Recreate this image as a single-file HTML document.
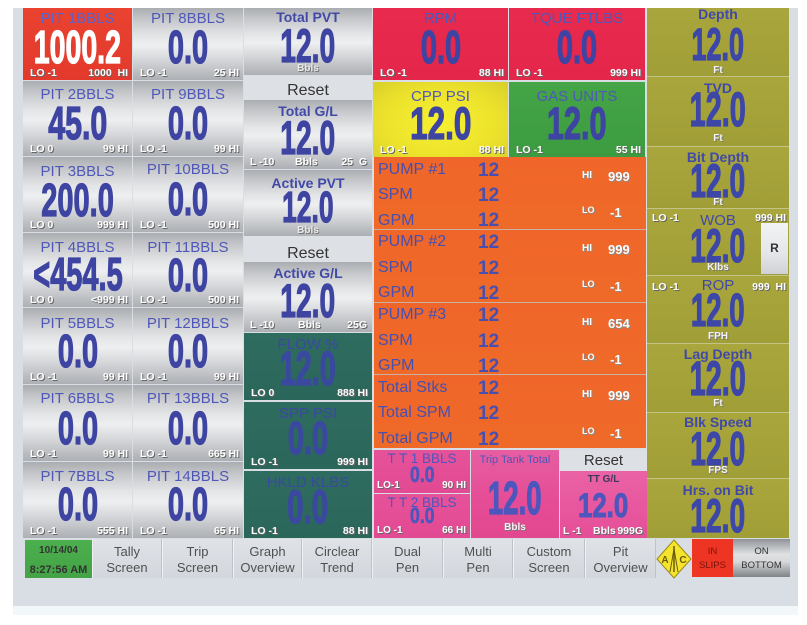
<!DOCTYPE html>
<html><head><meta charset="utf-8">
<style>
*{margin:0;padding:0;box-sizing:border-box}
html,body{width:807px;height:625px;background:#fff;overflow:hidden;font-family:"Liberation Sans",Arial,sans-serif}
#panel{position:absolute;left:13px;top:8px;width:785px;height:598px;background:#d9dee4}
#strip{position:absolute;left:13px;top:606px;width:785px;height:9px;background:#f2f8fa}
.tile{position:absolute;overflow:hidden}
.t{position:absolute;left:0;right:0;text-align:center;font-size:15px;line-height:1;color:#4f58b8;white-space:nowrap}
.tb{font-weight:bold;font-size:14px;color:#4149a6}
.v{position:absolute;left:-100px;right:-100px;text-align:center;font-weight:bold;line-height:1;color:#3e44a2;white-space:nowrap;-webkit-text-stroke:1.3px currentColor}
.v span{display:inline-block;transform:scaleX(.63)}
.lo,.hi{position:absolute;bottom:2px;font-size:10.5px;font-weight:bold;line-height:1;color:#fff;text-shadow:1px 1px 0 #666;white-space:nowrap}
.lo{left:7px}.hi{right:4px}
.u{position:absolute;left:0;right:0;text-align:center;font-size:10px;font-weight:bold;line-height:1;color:#f4f4f4;text-shadow:1px 1px 0 #777}
.ab{position:absolute;font-size:10.5px;font-weight:bold;line-height:1;color:#fff;text-shadow:1px 1px 0 #666;white-space:nowrap}
.sv{background:linear-gradient(180deg,#aaadb1 0%,#c4c6c9 15%,#e3e4e6 38%,#eeeff0 52%,#d4d6d9 72%,#acafb3 100%)}
.red{background:linear-gradient(180deg,#ea4331,#e2392c)}
.crim{background:linear-gradient(180deg,#e82a4e,#e3264a)}
.yel{background:radial-gradient(ellipse at 50% 55%,#f6f030 0%,#ece22c 60%,#d8cf2a 100%)}
.grn{background:linear-gradient(180deg,#44a547,#3c9b40)}
.teal{background:linear-gradient(180deg,#2f6c60,#2b665a)}
.teal .t,.teal .v{color:#3a48a0}
.olv{background:linear-gradient(180deg,#a8a63c,#a09e36)}
.olv .t{color:#4149a8}.olv .v{color:#3d47a8}
.pink{background:linear-gradient(180deg,#e6529a,#e24a93)}
.pink .t,.pink .v{color:#4d56bc}
.rst{background:#dde0e4;color:#333;font-size:16px;text-align:center;line-height:1}
.pump{background:#c9b0a0}
.sec{position:absolute;left:0;width:272px;background:linear-gradient(180deg,#f0662a,#ef6a28)}
.pl{position:absolute;left:4px;font-size:16px;line-height:1;color:#4650b0;white-space:nowrap}
.pv{position:absolute;left:104px;font-size:19px;font-weight:bold;line-height:1;color:#4650b0}
.ph{position:absolute;font-weight:bold;line-height:1;color:#fff;text-shadow:1px 1px 0 #8a8a8a;white-space:nowrap}
.nav{position:absolute;top:539px;height:39px;background:linear-gradient(180deg,#dfe2e7,#d3d7dd);border-left:1px solid #eef0f3;border-right:1px solid #bfc3c9;text-align:center;font-size:13px;line-height:16px;color:#505050}
.nav div{position:absolute;left:0;right:0;top:5px}
</style></head><body>
<div id="panel"></div>
<div id="strip"></div>

<!-- Column A -->
<div class="tile red" style="left:23px;top:8px;width:109px;height:72px">
 <div class="t" style="top:3px;color:#5a62cc">PIT 1BBLS</div>
 <div class="v" style="top:16px;font-size:46px;color:#fff"><span style="transform:scaleX(.62)">1000.2</span></div>
 <div class="lo">LO -1</div><div class="hi">1000&nbsp; HI</div></div>
<div class="tile sv" style="left:23px;top:81px;width:109px;height:75px">
 <div class="t" style="top:6px">PIT 2BBLS</div>
 <div class="v" style="top:19px;font-size:46px"><span style="transform:scaleX(.66)">45.0</span></div>
 <div class="lo">LO 0</div><div class="hi">99 HI</div></div>
<div class="tile sv" style="left:23px;top:157px;width:109px;height:75px">
 <div class="t" style="top:7px">PIT 3BBLS</div>
 <div class="v" style="top:20px;font-size:46px"><span>200.0</span></div>
 <div class="lo">LO 0</div><div class="hi">999 HI</div></div>
<div class="tile sv" style="left:23px;top:233px;width:109px;height:74px">
 <div class="t" style="top:7px">PIT 4BBLS</div>
 <div class="v" style="top:18px;font-size:46px"><span>&lt;454.5</span></div>
 <div class="lo">LO 0</div><div class="hi">&lt;999 HI</div></div>
<div class="tile sv" style="left:23px;top:308px;width:109px;height:76px">
 <div class="t" style="top:8px">PIT 5BBLS</div>
 <div class="v" style="top:20px;font-size:46px"><span>0.0</span></div>
 <div class="lo">LO -1</div><div class="hi">99 HI</div></div>
<div class="tile sv" style="left:23px;top:385px;width:109px;height:76px">
 <div class="t" style="top:6px">PIT 6BBLS</div>
 <div class="v" style="top:20px;font-size:46px"><span>0.0</span></div>
 <div class="lo">LO -1</div><div class="hi">99 HI</div></div>
<div class="tile sv" style="left:23px;top:462px;width:109px;height:76px">
 <div class="t" style="top:7px">PIT 7BBLS</div>
 <div class="v" style="top:19px;font-size:46px"><span>0.0</span></div>
 <div class="lo">LO -1</div><div class="hi">555 HI</div></div>

<!-- Column B -->
<div class="tile sv" style="left:133px;top:8px;width:110px;height:72px">
 <div class="t" style="top:3px">PIT 8BBLS</div>
 <div class="v" style="top:16px;font-size:46px"><span>0.0</span></div>
 <div class="lo">LO -1</div><div class="hi">25 HI</div></div>
<div class="tile sv" style="left:133px;top:81px;width:110px;height:75px">
 <div class="t" style="top:6px">PIT 9BBLS</div>
 <div class="v" style="top:19px;font-size:46px"><span>0.0</span></div>
 <div class="lo">LO -1</div><div class="hi">99 HI</div></div>
<div class="tile sv" style="left:133px;top:157px;width:110px;height:75px">
 <div class="t" style="top:5px">PIT 10BBLS</div>
 <div class="v" style="top:19px;font-size:46px"><span>0.0</span></div>
 <div class="lo">LO -1</div><div class="hi">500 HI</div></div>
<div class="tile sv" style="left:133px;top:233px;width:110px;height:74px">
 <div class="t" style="top:7px">PIT 11BBLS</div>
 <div class="v" style="top:19px;font-size:46px"><span>0.0</span></div>
 <div class="lo">LO -1</div><div class="hi">500 HI</div></div>
<div class="tile sv" style="left:133px;top:308px;width:110px;height:76px">
 <div class="t" style="top:8px">PIT 12BBLS</div>
 <div class="v" style="top:20px;font-size:46px"><span>0.0</span></div>
 <div class="lo">LO -1</div><div class="hi">99 HI</div></div>
<div class="tile sv" style="left:133px;top:385px;width:110px;height:76px">
 <div class="t" style="top:6px">PIT 13BBLS</div>
 <div class="v" style="top:20px;font-size:46px"><span>0.0</span></div>
 <div class="lo">LO -1</div><div class="hi">665 HI</div></div>
<div class="tile sv" style="left:133px;top:462px;width:110px;height:76px">
 <div class="t" style="top:7px">PIT 14BBLS</div>
 <div class="v" style="top:19px;font-size:46px"><span>0.0</span></div>
 <div class="lo">LO -1</div><div class="hi">65 HI</div></div>

<!-- Column C -->
<div class="tile sv" style="left:244px;top:8px;width:128px;height:67px">
 <div class="t tb" style="top:2px">Total PVT</div>
 <div class="v" style="top:14px;font-size:47px"><span style="transform:scaleX(.6)">12.0</span></div>
 <div class="u" style="top:56px;color:#e8e8e8">Bbls</div></div>
<div class="tile rst" style="left:244px;top:75px;width:128px;height:25px;padding-top:8px">Reset</div>
<div class="tile sv" style="left:244px;top:100px;width:128px;height:69px">
 <div class="t tb" style="top:4px">Total G/L</div>
 <div class="v" style="top:14px;font-size:47px"><span style="transform:scaleX(.6)">12.0</span></div>
 <div class="ab" style="left:6px;bottom:2px">L -10</div>
 <div class="ab" style="left:51px;bottom:2px">Bbls</div>
 <div class="ab" style="right:5px;bottom:2px">25&nbsp; G</div></div>
<div class="tile sv" style="left:244px;top:170px;width:128px;height:66px">
 <div class="t tb" style="top:6px">Active PVT</div>
 <div class="v" style="top:16px;font-size:44px"><span style="transform:scaleX(.6)">12.0</span></div>
 <div class="u" style="top:56px;color:#e8e8e8">Bbls</div></div>
<div class="tile rst" style="left:244px;top:236px;width:128px;height:26px;padding-top:10px">Reset</div>
<div class="tile sv" style="left:244px;top:262px;width:128px;height:70px">
 <div class="t tb" style="top:4px">Active G/L</div>
 <div class="v" style="top:15px;font-size:47px"><span style="transform:scaleX(.6)">12.0</span></div>
 <div class="ab" style="left:6px;bottom:2px">L -10</div>
 <div class="ab" style="left:54px;bottom:2px">Bbls</div>
 <div class="ab" style="right:5px;bottom:2px">25G</div></div>
<div class="tile teal" style="left:244px;top:333px;width:128px;height:67px">
 <div class="t" style="top:4px">FLOW %</div>
 <div class="v" style="top:13px;font-size:48px"><span style="transform:scaleX(.6)">12.0</span></div>
 <div class="lo">LO 0</div><div class="hi">888 HI</div></div>
<div class="tile teal" style="left:244px;top:402px;width:128px;height:67px">
 <div class="t" style="top:4px">SPP PSI</div>
 <div class="v" style="top:13px;font-size:46px"><span>0.0</span></div>
 <div class="lo">LO -1</div><div class="hi">999 HI</div></div>
<div class="tile teal" style="left:244px;top:471px;width:128px;height:67px">
 <div class="t" style="top:4px">HKLD KLBS</div>
 <div class="v" style="top:12px;font-size:47px"><span>0.0</span></div>
 <div class="lo">LO -1</div><div class="hi">88 HI</div></div>

<!-- Middle top -->
<div class="tile crim" style="left:373px;top:8px;width:135px;height:72px">
 <div class="t" style="top:3px">RPM</div>
 <div class="v" style="top:16px;font-size:46px"><span>0.0</span></div>
 <div class="lo">LO -1</div><div class="hi">88 HI</div></div>
<div class="tile crim" style="left:509px;top:8px;width:136px;height:72px">
 <div class="t" style="top:3px">TQUE FTLBS</div>
 <div class="v" style="top:16px;font-size:46px"><span>0.0</span></div>
 <div class="lo">LO -1</div><div class="hi">999 HI</div></div>
<div class="tile yel" style="left:373px;top:82px;width:135px;height:75px">
 <div class="t" style="top:7px">CPP PSI</div>
 <div class="v" style="top:19px;font-size:45px"><span style="transform:scaleX(.7)">12.0</span></div>
 <div class="lo">LO -1</div><div class="hi">88 HI</div></div>
<div class="tile grn" style="left:509px;top:82px;width:136px;height:75px">
 <div class="t" style="top:7px">GAS UNITS</div>
 <div class="v" style="top:19px;font-size:45px"><span style="transform:scaleX(.68)">12.0</span></div>
 <div class="lo">LO -1</div><div class="hi">55 HI</div></div>

<!-- Pump block -->
<div class="tile pump" style="left:374px;top:157px;width:272px;height:291px">
 <div class="sec" style="top:0;height:72px">
  <div class="pl" style="top:5px">PUMP #1</div><div class="pv" style="top:4px">12</div>
  <div class="pl" style="top:30px">SPM</div><div class="pv" style="top:29px">12</div>
  <div class="pl" style="top:56px">GPM</div><div class="pv" style="top:54px">12</div>
  <div class="ph" style="left:208px;top:14px;font-size:10px">HI</div><div class="ph" style="left:234px;top:13px;font-size:13px">999</div>
  <div class="ph" style="left:208px;top:49px;font-size:9px">LO</div><div class="ph" style="left:236px;top:49px;font-size:13px">-1</div>
 </div>
 <div class="sec" style="top:73px;height:72px">
  <div class="pl" style="top:4px">PUMP #2</div><div class="pv" style="top:3px">12</div>
  <div class="pl" style="top:30px">SPM</div><div class="pv" style="top:29px">12</div>
  <div class="pl" style="top:55px">GPM</div><div class="pv" style="top:54px">12</div>
  <div class="ph" style="left:208px;top:14px;font-size:10px">HI</div><div class="ph" style="left:234px;top:13px;font-size:13px">999</div>
  <div class="ph" style="left:208px;top:50px;font-size:9px">LO</div><div class="ph" style="left:236px;top:50px;font-size:13px">-1</div>
 </div>
 <div class="sec" style="top:146px;height:71px">
  <div class="pl" style="top:4px">PUMP #3</div><div class="pv" style="top:3px">12</div>
  <div class="pl" style="top:30px">SPM</div><div class="pv" style="top:29px">12</div>
  <div class="pl" style="top:55px">GPM</div><div class="pv" style="top:54px">12</div>
  <div class="ph" style="left:208px;top:15px;font-size:10px">HI</div><div class="ph" style="left:234px;top:14px;font-size:13px">654</div>
  <div class="ph" style="left:208px;top:50px;font-size:9px">LO</div><div class="ph" style="left:236px;top:50px;font-size:13px">-1</div>
 </div>
 <div class="sec" style="top:218px;height:73px">
  <div class="pl" style="top:5px">Total Stks</div><div class="pv" style="top:4px">12</div>
  <div class="pl" style="top:30px">Total SPM</div><div class="pv" style="top:29px">12</div>
  <div class="pl" style="top:56px">Total GPM</div><div class="pv" style="top:55px">12</div>
  <div class="ph" style="left:208px;top:15px;font-size:10px">HI</div><div class="ph" style="left:234px;top:14px;font-size:13px">999</div>
  <div class="ph" style="left:208px;top:52px;font-size:9px">LO</div><div class="ph" style="left:236px;top:52px;font-size:13px">-1</div>
 </div>
</div>

<!-- Trip tank area -->
<div class="tile pink" style="left:374px;top:450px;width:96px;height:43px">
 <div class="t" style="top:2px;font-size:13.5px">T T 1 BBLS</div>
 <div class="v" style="top:14px;font-size:22px;-webkit-text-stroke:0.6px currentColor"><span style="transform:scaleX(.8)">0.0</span></div>
 <div class="lo" style="left:3px;font-size:10px">LO-1</div><div class="hi" style="font-size:10px">90 HI</div></div>
<div class="tile pink" style="left:374px;top:494px;width:96px;height:44px">
 <div class="t" style="top:2px;font-size:13.5px">T T 2 BBLS</div>
 <div class="v" style="top:11px;font-size:22px;-webkit-text-stroke:0.6px currentColor"><span style="transform:scaleX(.8)">0.0</span></div>
 <div class="lo" style="left:3px;font-size:10px">LO -1</div><div class="hi" style="font-size:10px">66 HI</div></div>
<div class="tile pink" style="left:471px;top:450px;width:88px;height:88px;background:linear-gradient(180deg,#e65ea2,#e54c96 60%,#e2488f)">
 <div class="t" style="top:5px;font-size:11px">Trip Tank Total</div>
 <div class="v" style="top:25px;font-size:46px"><span style="transform:scaleX(.6)">12.0</span></div>
 <div class="u" style="top:73px">Bbls</div></div>
<div class="tile rst" style="left:560px;top:450px;width:87px;height:21px;padding-top:3px;font-size:15px">Reset</div>
<div class="tile pink" style="left:560px;top:471px;width:87px;height:67px;background:linear-gradient(180deg,#ea62a6,#e54e98)">
 <div class="t" style="top:4px;font-size:10px;font-weight:bold;color:#3a3a5a">TT G/L</div>
 <div class="v" style="top:18px;font-size:34px;-webkit-text-stroke:1px currentColor"><span style="transform:scaleX(.76)">12.0</span></div>
 <div class="ab" style="left:3px;bottom:2px">L -1</div>
 <div class="ab" style="left:33px;bottom:2px">Bbls</div>
 <div class="ab" style="right:4px;bottom:2px">999G</div></div>

<!-- Right olive column -->
<div class="tile" style="left:647px;top:8px;width:142px;height:530px;background:#c4c388"></div>
<div class="tile olv" style="left:647px;top:8px;width:142px;height:68px">
 <div class="t tb" style="top:-1px">Depth</div>
 <div class="v" style="top:14px;font-size:45px"><span style="transform:scaleX(.6)">12.0</span></div>
 <div class="u" style="top:58px">Ft</div></div>
<div class="tile olv" style="left:647px;top:77px;width:142px;height:69px">
 <div class="t tb" style="top:4px">TVD</div>
 <div class="v" style="top:10px;font-size:48px"><span style="transform:scaleX(.6)">12.0</span></div>
 <div class="u" style="top:57px">Ft</div></div>
<div class="tile olv" style="left:647px;top:147px;width:142px;height:61px">
 <div class="t tb" style="top:3px">Bit Depth</div>
 <div class="v" style="top:10px;font-size:47px"><span style="transform:scaleX(.6)">12.0</span></div>
 <div class="u" style="top:51px">Ft</div></div>
<div class="tile olv" style="left:647px;top:209px;width:142px;height:66px">
 <div class="ab" style="left:5px;top:4px">LO -1</div>
 <div class="ab" style="right:3px;top:4px">999 HI</div>
 <div class="t" style="top:4px">WOB</div>
 <div class="v" style="top:13px;font-size:47px"><span style="transform:scaleX(.6)">12.0</span></div>
 <div class="u" style="top:54px">Klbs</div>
 <div style="position:absolute;left:114px;top:14px;width:27px;height:51px;background:linear-gradient(180deg,#f2f3f5,#e4e6e9 60%,#cfd2d6);text-align:center;font-size:12px;font-weight:bold;color:#333;line-height:51px">R</div></div>
<div class="tile olv" style="left:647px;top:276px;width:142px;height:67px">
 <div class="ab" style="left:5px;top:6px">LO -1</div>
 <div class="ab" style="right:3px;top:6px">999&nbsp; HI</div>
 <div class="t" style="top:2px">ROP</div>
 <div class="v" style="top:11px;font-size:46px"><span style="transform:scaleX(.6)">12.0</span></div>
 <div class="u" style="top:56px">FPH</div></div>
<div class="tile olv" style="left:647px;top:344px;width:142px;height:68px">
 <div class="t tb" style="top:3px">Lag Depth</div>
 <div class="v" style="top:12px;font-size:48px"><span style="transform:scaleX(.6)">12.0</span></div>
 <div class="u" style="top:55px">Ft</div></div>
<div class="tile olv" style="left:647px;top:413px;width:142px;height:65px">
 <div class="t tb" style="top:2px">Blk Speed</div>
 <div class="v" style="top:12px;font-size:47px"><span style="transform:scaleX(.6)">12.0</span></div>
 <div class="u" style="top:53px">FPS</div></div>
<div class="tile olv" style="left:647px;top:479px;width:142px;height:59px">
 <div class="t tb" style="top:4px">Hrs. on Bit</div>
 <div class="v" style="top:13px;font-size:47px"><span style="transform:scaleX(.6)">12.0</span></div></div>

<!-- Nav bar -->
<div class="tile" style="left:25px;top:540px;width:67px;height:38px;background:linear-gradient(180deg,#4caf4e,#43a346);text-align:center;color:#333;font-weight:bold">
 <div style="position:absolute;left:0;right:0;top:6px;font-size:10px;line-height:1">10/14/04</div>
 <div style="position:absolute;left:0;right:0;top:25px;font-size:11px;line-height:1">8:27:56 AM</div></div>
<div class="nav" style="left:92px;width:70px"><div>Tally<br>Screen</div></div>
<div class="nav" style="left:162px;width:71px"><div>Trip<br>Screen</div></div>
<div class="nav" style="left:233px;width:69px"><div>Graph<br>Overview</div></div>
<div class="nav" style="left:302px;width:70px"><div>Circlear<br>Trend</div></div>
<div class="nav" style="left:372px;width:71px"><div>Dual<br>Pen</div></div>
<div class="nav" style="left:443px;width:70px"><div>Multi<br>Pen</div></div>
<div class="nav" style="left:513px;width:72px"><div>Custom<br>Screen</div></div>
<div class="nav" style="left:585px;width:71px"><div>Pit<br>Overview</div></div>
<svg style="position:absolute;left:656px;top:539px" width="36" height="40" viewBox="0 0 36 40">
 <polygon points="18,1 35,20 18,39 1,20" fill="#f4e42c" stroke="#9a8a18" stroke-width="1"/>
 <line x1="18" y1="7" x2="18" y2="33" stroke="#6a5a10" stroke-width="1.5"/>
 <line x1="14" y1="33" x2="18" y2="10" stroke="#6a5a10" stroke-width="1"/>
 <line x1="22" y1="33" x2="18" y2="10" stroke="#6a5a10" stroke-width="1"/>
 <text x="9" y="24" font-family="Liberation Sans" font-size="10" font-weight="bold" fill="#6a5a10" text-anchor="middle">A</text>
 <text x="27" y="24" font-family="Liberation Sans" font-size="10" font-weight="bold" fill="#6a5a10" text-anchor="middle">C</text>
</svg>
<div class="tile" style="left:692px;top:539px;width:41px;height:38px;background:#ee3524;text-align:center;font-size:9.5px;line-height:1;color:#7a1208">
 <div style="position:absolute;left:0;right:0;top:8px">IN</div>
 <div style="position:absolute;left:0;right:0;top:22px">SLIPS</div></div>
<div class="tile" style="left:733px;top:539px;width:57px;height:38px;background:linear-gradient(180deg,#8f9397,#dfe1e3 40%,#d6d8da 60%,#7f8387);text-align:center;font-size:9.5px;line-height:1;color:#333">
 <div style="position:absolute;left:0;right:0;top:8px">ON</div>
 <div style="position:absolute;left:0;right:0;top:22px">BOTTOM</div></div>
</body></html>
